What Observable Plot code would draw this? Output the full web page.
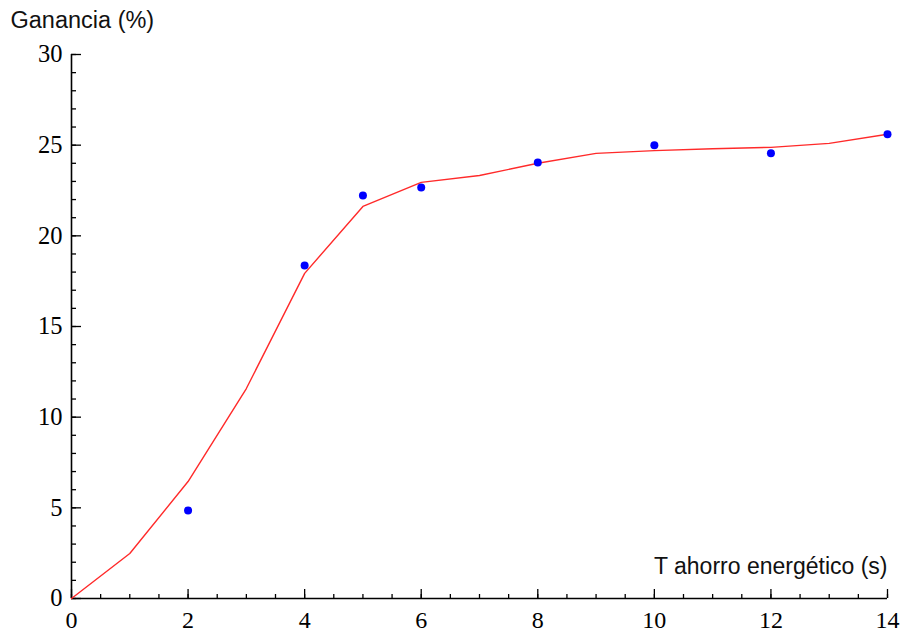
<!DOCTYPE html>
<html>
<head>
<meta charset="utf-8">
<script src="https://cdn.jsdelivr.net/npm/d3@7"></script>
<script src="https://cdn.jsdelivr.net/npm/@observablehq/plot@0.6"></script>
<style>
  html, body { margin: 0; padding: 0; background: #fff; }
  #chart svg { display: block; }
</style>
</head>
<body>
<div id="chart"></div>
<script>
// Data
const pointX = [2, 4, 5, 6, 8, 10, 12, 14];
const pointY = [4.85, 18.37, 22.23, 22.67, 24.05, 24.99, 24.55, 25.6];
const lineX = [0, 1, 2, 3, 4, 5, 6, 7, 8, 9, 10, 11, 12, 13, 14];
const lineY = [0, 2.48, 6.45, 11.58, 17.93, 21.62, 22.95, 23.33, 24.0, 24.55, 24.7, 24.8, 24.88, 25.1, 25.6];
const xMajor = [0, 2, 4, 6, 8, 10, 12, 14];
const xMinor = d3.range(0, 14.01, 0.5);
const yMajor = [0, 5, 10, 15, 20, 25, 30];
const yMinor = d3.range(0, 30.01, 1);
const yTitle = "Ganancia (%)";
const xTitle = "T ahorro energético (s)";

const points = pointX.map((x, i) => ({x, y: pointY[i]}));
const line = lineX.map((x, i) => ({x, y: lineY[i]}));

const serif = "'Liberation Serif', 'Times New Roman', serif";
const sans = "'Liberation Sans', Arial, sans-serif";

const chart = Plot.plot({
  width: 904,
  height: 634,
  marginLeft: 71,
  marginRight: 17,
  marginTop: 54,
  marginBottom: 36,
  style: {fontFamily: serif, fontSize: "24px", color: "#000", background: "#fff"},
  x: {domain: [0, 14], label: null},
  y: {domain: [0, 30], label: null},
  marks: [
    // minor ticks
    Plot.axisX(xMinor, {tickSize: -4, tickFormat: () => "", label: null, strokeWidth: 1.3}),
    Plot.axisY(yMinor, {tickSize: -5, tickFormat: () => "", label: null, strokeWidth: 1.3}),
    // major ticks + labels
    Plot.axisX(xMajor, {tickSize: -9, tickPadding: 21, label: null, strokeWidth: 1.3, fontFamily: serif, fontSize: 24, fill: "#000"}),
    Plot.axisY(yMajor, {tickSize: -10, tickPadding: 19, label: null, strokeWidth: 1.3, fontFamily: serif, fontSize: 24.5, fill: "#000"}),
    // axis lines
    Plot.ruleY([0], {stroke: "#000", strokeWidth: 1.6}),
    Plot.ruleX([0], {stroke: "#000", strokeWidth: 1.6}),
    // fitted line
    Plot.line(line, {x: "x", y: "y", stroke: "#ff2a2a", strokeWidth: 1.4}),
    // data points
    Plot.dot(points, {x: "x", y: "y", r: 4, fill: "#0000ff", stroke: "none"}),
    // axis titles
    Plot.text([yTitle], {frameAnchor: "top-left", text: d => d, dx: -61, dy: -27, textAnchor: "start", lineAnchor: "bottom", fontFamily: sans, fontSize: 23.5, fill: "#111"}),
    Plot.text([xTitle], {frameAnchor: "bottom-right", text: d => d, dx: 0, dy: -25, textAnchor: "end", lineAnchor: "bottom", fontFamily: sans, fontSize: 23, fill: "#111"})
  ]
});
document.getElementById("chart").appendChild(chart);
</script>
</body>
</html>
